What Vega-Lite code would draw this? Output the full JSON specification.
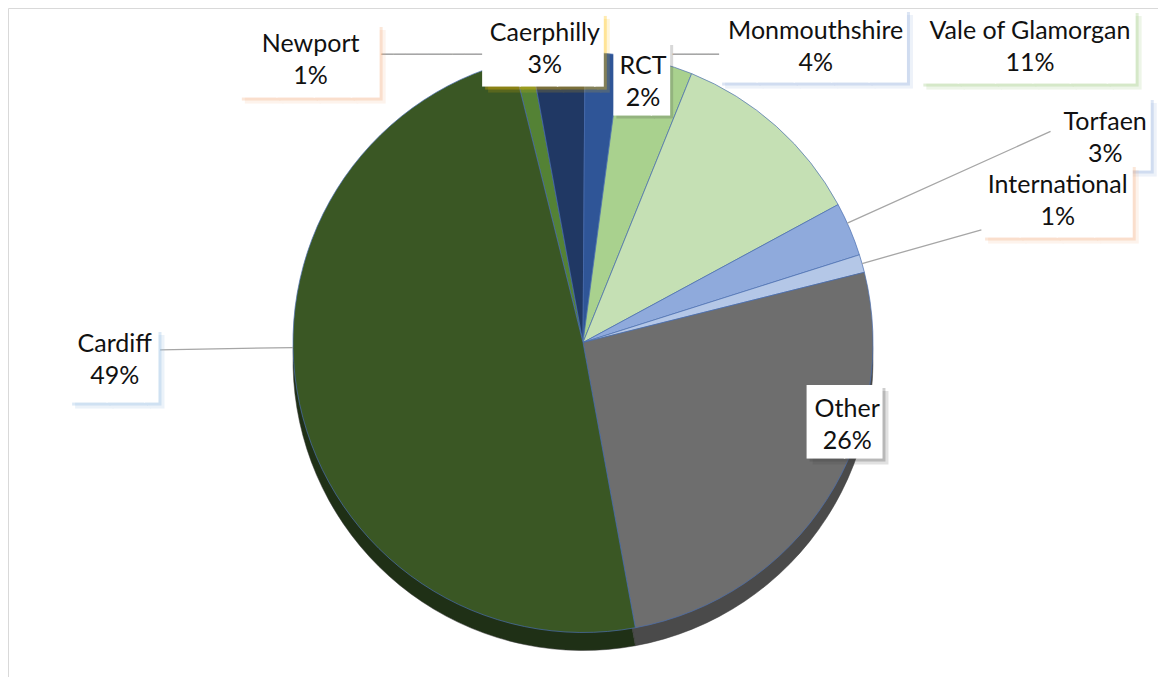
{
  "$schema": "https://vega.github.io/schema/vega-lite/v6.json",
  "width": 1150,
  "height": 669,
  "autosize": {"type": "none"},
  "padding": {"left": 8, "top": 8, "right": 0, "bottom": 0},
  "background": "white",
  "view": {"stroke": "#d9d9d9", "strokeWidth": 1},
  "config": {"view": {"stroke": "#d9d9d9", "strokeWidth": 1}, "text": {"font": "Lato", "fontSize": 25, "lineHeight": 32, "color": "#111111"}},
  "data": {"values": [
    {"region": "Newport", "share": 1, "order": 1},
    {"region": "Caerphilly", "share": 3, "order": 2},
    {"region": "RCT", "share": 2, "order": 3},
    {"region": "Monmouthshire", "share": 4, "order": 4},
    {"region": "Vale of Glamorgan", "share": 11, "order": 5},
    {"region": "Torfaen", "share": 3, "order": 6},
    {"region": "International", "share": 1, "order": 7},
    {"region": "Other", "share": 26, "order": 8},
    {"region": "Cardiff", "share": 49, "order": 9}
  ]},
  "transform": [
    {"stack": "share", "groupby": [], "sort": [{"field": "order", "order": "ascending"}], "as": ["s0", "s1"]},
    {"calculate": "(datum.s0 + datum.s1) / 2", "as": "mid"},
    {"calculate": "datum.region + '\\n' + datum.share + '%'", "as": "label"}
  ],
  "encoding": {
    "theta": {"field": "mid", "type": "quantitative", "stack": null, "scale": {"domain": [0, 100], "range": [-0.2443, 6.0389]}}
  },
  "layer": [
    {
      "mark": {"type": "arc", "outerRadius": 290, "yOffset": 18, "stroke": "#3a3a3a", "strokeWidth": 0.5},
      "encoding": {
        "theta": {"field": "s0", "type": "quantitative", "stack": null, "scale": {"domain": [0, 100], "range": [-0.2443, 6.0389]}},
        "theta2": {"field": "s1"},
        "fill": {"field": "region", "type": "nominal", "legend": null, "scale": {
          "domain": ["Newport", "Caerphilly", "RCT", "Monmouthshire", "Vale of Glamorgan", "Torfaen", "International", "Other", "Cardiff"],
          "range": ["#3b5c25", "#16274a", "#213c6a", "#7a9a65", "#8fa683", "#6680ad", "#8396b3", "#4a4a4a", "#1f3016"]}}
      }
    },
    {
      "mark": {"type": "arc", "outerRadius": 290, "stroke": "#4a6fb0", "strokeWidth": 0.7},
      "encoding": {
        "theta": {"field": "s0", "type": "quantitative", "stack": null, "scale": {"domain": [0, 100], "range": [-0.2443, 6.0389]}},
        "theta2": {"field": "s1"},
        "color": {"field": "region", "type": "nominal", "legend": null, "scale": {
          "domain": ["Newport", "Caerphilly", "RCT", "Monmouthshire", "Vale of Glamorgan", "Torfaen", "International", "Other", "Cardiff"],
          "range": ["#548235", "#203864", "#2F5597", "#A9D18E", "#C5E0B4", "#8FAADC", "#B4C7E7", "#6E6E6E", "#3A5724"]}}
      }
    },
    {
      "transform": [{"filter": "datum.region === 'International'"}],
      "mark": {"type": "arc", "innerRadius": 290, "outerRadius": 414, "stroke": "#a6a6a6", "strokeWidth": 1.3, "fill": null},
      "encoding": {"theta2": {"field": "mid"}}
    },
    {
      "transform": [{"filter": "datum.region === 'Torfaen'"}],
      "mark": {"type": "arc", "innerRadius": 290, "outerRadius": 513, "thetaOffset": -0.0227, "theta2Offset": -0.0227, "stroke": "#a6a6a6", "strokeWidth": 1.3, "fill": null},
      "encoding": {"theta2": {"field": "mid"}}
    },
    {
      "transform": [{"filter": "datum.region === 'Cardiff'"}],
      "mark": {"type": "arc", "innerRadius": 290, "outerRadius": 423, "thetaOffset": 0.1955, "theta2Offset": 0.1955, "stroke": "#a6a6a6", "strokeWidth": 1.3, "fill": null},
      "encoding": {"theta2": {"field": "mid"}}
    },
    {
      "transform": [{"filter": "datum.region === 'Newport'"}],
      "mark": {"type": "text", "font": "DejaVu Sans Mono", "fontSize": 19.6, "radius": 300, "dx": -138, "dy": 6, "align": "left", "baseline": "middle", "color": "#a6a6a6"},
      "encoding": {"text": {"value": "───────────"}}
    },
    {
      "transform": [{"filter": "datum.region === 'RCT'"}],
      "mark": {"type": "text", "font": "DejaVu Sans Mono", "fontSize": 19.6, "radius": 300, "dx": 69, "dy": 12, "align": "left", "baseline": "middle", "color": "#a6a6a6"},
      "encoding": {"text": {"value": "────"}}
    },
    {
      "transform": [{"filter": "datum.region === 'Newport'"}],
      "layer": [
        {"mark": {"type": "text", "font": "DejaVu Sans Mono", "fontSize": 62, "radius": 300, "dx": -274, "dy": -10, "align": "left", "baseline": "top", "color": "#F4B183", "opacity": 0.15}, "encoding": {"text": {"value": "███▊"}}},
        {"mark": {"type": "text", "font": "DejaVu Sans Mono", "fontSize": 62, "radius": 300, "dx": -277, "dy": -13, "align": "left", "baseline": "top", "color": "#F4B183", "opacity": 0.3}, "encoding": {"text": {"value": "███▊"}}},
        {"mark": {"type": "text", "font": "DejaVu Sans Mono", "fontSize": 62, "radius": 300, "dx": -280, "dy": -16, "align": "left", "baseline": "top", "color": "white"}, "encoding": {"text": {"value": "███▊"}}},
        {"mark": {"type": "text", "radius": 300, "dx": -209, "dy": -5, "align": "center", "baseline": "middle", "lineBreak": "\n"}, "encoding": {"text": {"field": "label"}}}
      ]
    },
    {
      "transform": [{"filter": "datum.region === 'Caerphilly'"}],
      "layer": [
        {"mark": {"type": "text", "font": "DejaVu Sans Mono", "fontSize": 62, "radius": 300, "dx": -68, "dy": -16, "align": "left", "baseline": "top", "color": "#FFC000", "opacity": 0.15}, "encoding": {"text": {"value": "███▎"}}},
        {"mark": {"type": "text", "font": "DejaVu Sans Mono", "fontSize": 62, "radius": 300, "dx": -71, "dy": -19, "align": "left", "baseline": "top", "color": "#FFC000", "opacity": 0.3}, "encoding": {"text": {"value": "███▎"}}},
        {"mark": {"type": "text", "font": "DejaVu Sans Mono", "fontSize": 62, "radius": 300, "dx": -74, "dy": -22, "align": "left", "baseline": "top", "color": "white"}, "encoding": {"text": {"value": "███▎"}}},
        {"mark": {"type": "text", "radius": 300, "dx": -12, "dy": -11, "align": "center", "baseline": "middle", "lineBreak": "\n"}, "encoding": {"text": {"field": "label"}}}
      ]
    },
    {
      "transform": [{"filter": "datum.region === 'RCT'"}],
      "layer": [
        {"mark": {"type": "text", "font": "DejaVu Sans Mono", "fontSize": 62, "radius": 300, "dx": 13, "dy": 11, "align": "left", "baseline": "top", "color": "#404040", "opacity": 0.2}, "encoding": {"text": {"value": "█▌"}}},
        {"mark": {"type": "text", "font": "DejaVu Sans Mono", "fontSize": 62, "radius": 300, "dx": 10, "dy": 8, "align": "left", "baseline": "top", "color": "white"}, "encoding": {"text": {"value": "█▌"}}},
        {"mark": {"type": "text", "radius": 300, "dx": 39, "dy": 23, "align": "center", "baseline": "middle", "lineBreak": "\n"}, "encoding": {"text": {"field": "label"}}}
      ]
    },
    {
      "transform": [{"filter": "datum.region === 'Monmouthshire'"}],
      "layer": [
        {"mark": {"type": "text", "font": "DejaVu Sans Mono", "fontSize": 62, "radius": 300, "dx": 66, "dy": -28, "align": "left", "baseline": "top", "color": "#8FAADC", "opacity": 0.15}, "encoding": {"text": {"value": "█████"}}},
        {"mark": {"type": "text", "font": "DejaVu Sans Mono", "fontSize": 62, "radius": 300, "dx": 63, "dy": -31, "align": "left", "baseline": "top", "color": "#8FAADC", "opacity": 0.3}, "encoding": {"text": {"value": "█████"}}},
        {"mark": {"type": "text", "font": "DejaVu Sans Mono", "fontSize": 62, "radius": 300, "dx": 60, "dy": -34, "align": "left", "baseline": "top", "color": "white"}, "encoding": {"text": {"value": "█████"}}},
        {"mark": {"type": "text", "radius": 300, "dx": 156, "dy": -21, "align": "center", "baseline": "middle", "lineBreak": "\n"}, "encoding": {"text": {"field": "label"}}}
      ]
    },
    {
      "transform": [{"filter": "datum.region === 'Vale of Glamorgan'"}],
      "layer": [
        {"mark": {"type": "text", "font": "DejaVu Sans Mono", "fontSize": 62, "radius": 300, "dx": 144, "dy": -94, "align": "left", "baseline": "top", "color": "#A9D18E", "opacity": 0.2}, "encoding": {"text": {"value": "█████▊"}}},
        {"mark": {"type": "text", "font": "DejaVu Sans Mono", "fontSize": 62, "radius": 300, "dx": 141, "dy": -97, "align": "left", "baseline": "top", "color": "#A9D18E", "opacity": 0.35}, "encoding": {"text": {"value": "█████▊"}}},
        {"mark": {"type": "text", "font": "DejaVu Sans Mono", "fontSize": 62, "radius": 300, "dx": 138, "dy": -100, "align": "left", "baseline": "top", "color": "white"}, "encoding": {"text": {"value": "█████▊"}}},
        {"mark": {"type": "text", "radius": 300, "dx": 247, "dy": -88, "align": "center", "baseline": "middle", "lineBreak": "\n"}, "encoding": {"text": {"field": "label"}}}
      ]
    },
    {
      "transform": [{"filter": "datum.region === 'Torfaen'"}],
      "layer": [
        {"mark": {"type": "text", "font": "DejaVu Sans Mono", "fontSize": 62, "radius": 300, "dx": 297, "dy": -113, "align": "right", "baseline": "top", "color": "#8FAADC", "opacity": 0.15}, "encoding": {"text": {"value": "▐██"}}},
        {"mark": {"type": "text", "font": "DejaVu Sans Mono", "fontSize": 62, "radius": 300, "dx": 294, "dy": -116, "align": "right", "baseline": "top", "color": "#8FAADC", "opacity": 0.3}, "encoding": {"text": {"value": "▐██"}}},
        {"mark": {"type": "text", "font": "DejaVu Sans Mono", "fontSize": 62, "radius": 300, "dx": 291, "dy": -119, "align": "right", "baseline": "top", "color": "white"}, "encoding": {"text": {"value": "▐██"}}},
        {"mark": {"type": "text", "radius": 300, "dx": 246, "dy": -103, "align": "center", "baseline": "middle", "lineBreak": "\n"}, "encoding": {"text": {"field": "label"}}}
      ]
    },
    {
      "transform": [{"filter": "datum.region === 'International'"}],
      "layer": [
        {"mark": {"type": "text", "font": "DejaVu Sans Mono", "fontSize": 62, "radius": 300, "dx": 117, "dy": -82, "align": "left", "baseline": "top", "color": "#F4B183", "opacity": 0.15}, "encoding": {"text": {"value": "████"}}},
        {"mark": {"type": "text", "font": "DejaVu Sans Mono", "fontSize": 62, "radius": 300, "dx": 114, "dy": -85, "align": "left", "baseline": "top", "color": "#F4B183", "opacity": 0.3}, "encoding": {"text": {"value": "████"}}},
        {"mark": {"type": "text", "font": "DejaVu Sans Mono", "fontSize": 62, "radius": 300, "dx": 111, "dy": -88, "align": "left", "baseline": "top", "color": "white"}, "encoding": {"text": {"value": "████"}}},
        {"mark": {"type": "text", "radius": 300, "dx": 186, "dy": -76, "align": "center", "baseline": "middle", "lineBreak": "\n"}, "encoding": {"text": {"field": "label"}}}
      ]
    },
    {
      "transform": [{"filter": "datum.region === 'Other'"}],
      "layer": [
        {"mark": {"type": "text", "font": "DejaVu Sans Mono", "fontSize": 62, "radius": 300, "dx": -22, "dy": -105, "align": "left", "baseline": "top", "color": "#404040", "opacity": 0.15}, "encoding": {"text": {"value": "██"}}},
        {"mark": {"type": "text", "font": "DejaVu Sans Mono", "fontSize": 62, "radius": 300, "dx": -25, "dy": -108, "align": "left", "baseline": "top", "color": "#404040", "opacity": 0.25}, "encoding": {"text": {"value": "██"}}},
        {"mark": {"type": "text", "font": "DejaVu Sans Mono", "fontSize": 62, "radius": 300, "dx": -28, "dy": -111, "align": "left", "baseline": "top", "color": "white"}, "encoding": {"text": {"value": "██"}}},
        {"mark": {"type": "text", "radius": 300, "dx": 12, "dy": -96, "align": "center", "baseline": "middle", "lineBreak": "\n"}, "encoding": {"text": {"field": "label"}}}
      ]
    },
    {
      "transform": [{"filter": "datum.region === 'Cardiff'"}],
      "layer": [
        {"mark": {"type": "text", "font": "DejaVu Sans Mono", "fontSize": 62, "radius": 300, "dx": -214, "dy": -62, "align": "left", "baseline": "top", "color": "#9DC3E6", "opacity": 0.2}, "encoding": {"text": {"value": "██▍"}}},
        {"mark": {"type": "text", "font": "DejaVu Sans Mono", "fontSize": 62, "radius": 300, "dx": -217, "dy": -65, "align": "left", "baseline": "top", "color": "#9DC3E6", "opacity": 0.35}, "encoding": {"text": {"value": "██▍"}}},
        {"mark": {"type": "text", "font": "DejaVu Sans Mono", "fontSize": 62, "radius": 300, "dx": -220, "dy": -68, "align": "left", "baseline": "top", "color": "white"}, "encoding": {"text": {"value": "██▍"}}},
        {"mark": {"type": "text", "radius": 300, "dx": -175, "dy": -62, "align": "center", "baseline": "middle", "lineBreak": "\n"}, "encoding": {"text": {"field": "label"}}}
      ]
    }
  ]
}
